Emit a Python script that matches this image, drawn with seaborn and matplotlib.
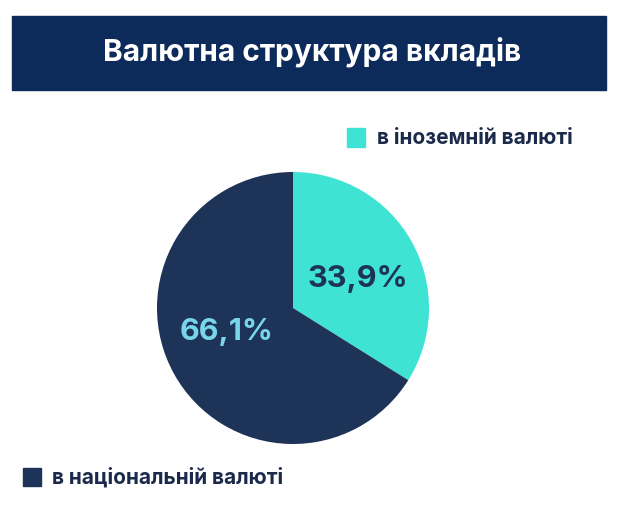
import matplotlib
matplotlib.use("Agg")
import matplotlib.pyplot as plt
import seaborn as sns
from matplotlib.patches import Rectangle

# Data
categories = ["в іноземній валюті", "в національній валюті"]
shares = [33.9, 66.1]
share_labels = ["33,9%", "66,1%"]
title = "Валютна структура вкладів"

TEAL = "#3ee3d3"
NAVY = "#1e3358"
BANNER = "#0c2a5a"
LIGHT = "#78d6ea"


def main():
    sns.set_theme(style="white")
    plt.rcParams["font.family"] = ["Inter", "DejaVu Sans"]

    fig = plt.figure(figsize=(6.25, 5.13), dpi=100)
    fig.patch.set_facecolor("white")

    # Title banner
    fig.patches.append(Rectangle((12 / 625, 1 - 90 / 513), 594 / 625, 74 / 513,
                                 transform=fig.transFigure, color=BANNER, zorder=0))
    fig.text(312 / 625, 1 - 52 / 513, title, color="white", fontsize=21.5,
             fontweight="bold", ha="center", va="center")

    # Pie
    ax = fig.add_axes([157 / 625, 69 / 513, 272 / 625, 272 / 513])
    wedges, _ = ax.pie(shares, colors=[TEAL, NAVY], startangle=90, counterclock=False,
                       radius=1, wedgeprops=dict(linewidth=0))
    ax.set_xlim(-1, 1)
    ax.set_ylim(-1, 1)
    ax.set_aspect("equal")
    ax.axis("off")

    ax.text(0.48, 0.21, share_labels[0], color=NAVY, fontsize=22, fontweight="bold",
            ha="center", va="center")
    ax.text(-0.49, -0.18, share_labels[1], color=LIGHT, fontsize=22, fontweight="bold",
            ha="center", va="center")

    # Legend entries
    fig.patches.append(Rectangle((347 / 625, 1 - 147 / 513), 18 / 625, 19 / 513,
                                 transform=fig.transFigure, color=TEAL))
    fig.text(377 / 625, 1 - 138 / 513, categories[0], color="#1b2a4a", fontsize=15,
             fontweight="bold", ha="left", va="center")
    fig.patches.append(Rectangle((23 / 625, 1 - 486 / 513), 18 / 625, 18 / 513,
                                 transform=fig.transFigure, color=NAVY))
    fig.text(52 / 625, 1 - 477 / 513, categories[1], color="#1b2a4a", fontsize=15,
             fontweight="bold", ha="left", va="center")

    fig.savefig("out.png", dpi=100)


if __name__ == "__main__":
    main()
